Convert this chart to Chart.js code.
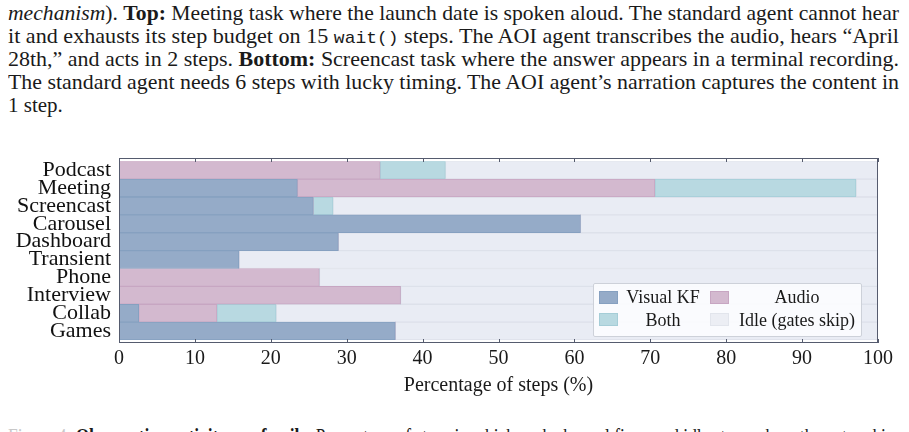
<!DOCTYPE html>
<html>
<head>
<meta charset="utf-8">
<script src="https://cdn.jsdelivr.net/npm/chart.js@4.4.1/dist/chart.umd.min.js"></script>
<style>
  html, body { margin: 0; padding: 0; background: #fff; }
  body { width: 909px; height: 432px; position: relative; overflow: hidden;
         font-family: "Liberation Serif", serif; color: #1a1a1a; }
  .line { position: absolute; left: 8px; white-space: nowrap; font-size: 21px;
          line-height: 23px; transform-origin: 0 0; }
  .line code { font-family: "Liberation Mono", monospace; font-size: 17px; }
  .grey { color: #c8c8c8; }
  #chartBox { position: absolute; left: 0; top: 140px; width: 909px; height: 262px; }
  #legend { position: absolute; left: 593px; top: 283px; width: 267px; height: 52px;
            background: rgba(251, 252, 254, 0.92); border: 1px solid #cdd1d9;
            border-radius: 2px; font-size: 18px; color: #1a1a1a; }
  #legend .sw { position: absolute; width: 17px; height: 11px; border: 1px solid; }
  #legend .lb { position: absolute; text-align: center; line-height: 22px; }
</style>
</head>
<body>

<div class="line" style="top:2px"><i>mechanism</i>). <b>Top:</b> Meeting task where the launch date is spoken aloud. The standard agent cannot hear</div>
<div class="line" style="top:25px">it and exhausts its step budget on 15 <code>wait()</code> steps. The AOI agent transcribes the audio, hears “April</div>
<div class="line" style="top:48px">28th,” and acts in 2 steps. <b>Bottom:</b> Screencast task where the answer appears in a terminal recording.</div>
<div class="line" style="top:71px">The standard agent needs 6 steps with lucky timing. The AOI agent’s narration captures the content in</div>
<div class="line last" style="top:94px">1 step.</div>

<div id="chartBox"><canvas id="gatesChart"></canvas></div>

<div id="legend">
  <span class="sw" style="left:5px;top:7px;background:#95abc8;border-color:#86a0c0"></span>
  <span class="lb" style="left:28px;top:2px;width:82px">Visual KF</span>
  <span class="sw" style="left:116px;top:7px;background:#d3b9cf;border-color:#c7a6c2"></span>
  <span class="lb" style="left:140px;top:2px;width:126px">Audio</span>
  <span class="sw" style="left:5px;top:29px;background:#b8d9e1;border-color:#a5cdd7"></span>
  <span class="lb" style="left:28px;top:25px;width:82px">Both</span>
  <span class="sw" style="left:116px;top:29px;background:#eceef4;border-color:#e2e5ec"></span>
  <span class="lb" style="left:140px;top:25px;width:126px">Idle (gates skip)</span>
</div>

<div class="line" style="top:425px"><span class="grey">Figure 4:</span> <b>Observation activity per family.</b> Percentage of steps in which each channel fires, and idle steps where the gates skip.</div>

<script>
// Families, top to bottom
const families = ["Podcast", "Meeting", "Screencast", "Carousel", "Dashboard",
                  "Transient", "Phone", "Interview", "Collab", "Games"];

// Percentage of steps per channel (stacked, each row sums to 100)
const visualKF = [0, 23.5, 25.6, 60.8, 28.9, 15.8, 0, 0, 2.6, 36.4];
const audio    = [34.4, 47.1, 0, 0, 0, 0, 26.4, 37.1, 10.3, 0];
const both     = [8.6, 26.5, 2.6, 0, 0, 0, 0, 0, 7.8, 0];
const idle     = [57.0, 2.9, 71.8, 39.2, 71.1, 84.2, 73.6, 62.9, 79.3, 63.6];

const xTicks = [0, 10, 20, 30, 40, 50, 60, 70, 80, 90, 100];

// squeeze caption lines to the text block width
const lines = document.querySelectorAll(".line");
let scales = [];
lines.forEach(el => {
  if (el.classList.contains("last")) return;
  const s = 891 / el.getBoundingClientRect().width;
  scales.push(s);
  el.style.transform = `scaleX(${s})`;
});
const avg = scales.reduce((a, b) => a + b, 0) / scales.length;
document.querySelector(".line.last").style.transform = `scaleX(${avg})`;

// frame around the plot with inward ticks on top and bottom
const framePlugin = {
  id: "frame",
  afterDraw(chart) {
    const { ctx, chartArea: a, scales: { x } } = chart;
    const top = a.top - 3, bottom = a.bottom + 3;
    ctx.save();
    ctx.strokeStyle = "#555b6e";
    ctx.lineWidth = 1;
    ctx.strokeRect(Math.round(a.left) + 0.5, Math.round(top) + 0.5,
                   Math.round(a.right - a.left) - 1, Math.round(bottom - top) - 1);
    ctx.beginPath();
    xTicks.forEach(v => {
      const px = Math.round(x.getPixelForValue(v)) + 0.5;
      ctx.moveTo(px, Math.round(top));
      ctx.lineTo(px, Math.round(top) + 4);
      ctx.moveTo(px, Math.round(bottom));
      ctx.lineTo(px, Math.round(bottom) - 4);
    });
    ctx.stroke();
    ctx.restore();
  }
};

const bw = c => (c.raw ? 1 : 0);

const data = {
  labels: families,
  datasets: [
    { label: "Visual KF", data: visualKF, backgroundColor: "#95abc8", borderColor: "#86a0c0", borderWidth: bw },
    { label: "Audio", data: audio, backgroundColor: "#d3b9cf", borderColor: "#c7a6c2", borderWidth: bw },
    { label: "Both", data: both, backgroundColor: "#b8d9e1", borderColor: "#a5cdd7", borderWidth: bw },
    { label: "Idle (gates skip)", data: idle, backgroundColor: "#e9ecf4", borderColor: "#dde1ea", borderWidth: bw }
  ]
};

const config = {
  type: "bar",
  data: data,
  options: {
    indexAxis: "y",
    responsive: true,
    maintainAspectRatio: false,
    animation: false,
    layout: { padding: { top: 13, right: 31, left: 0, bottom: 0 } },
    datasets: { bar: { barPercentage: 1, categoryPercentage: 1, borderSkipped: false } },
    plugins: { legend: { display: false }, tooltip: { enabled: false } },
    scales: {
      x: {
        stacked: true,
        min: 0,
        max: 100,
        afterFit: s => { s.height = 62; },
        afterBuildTicks: s => { s.ticks = xTicks.map(v => ({ value: v })); },
        grid: { display: false, drawTicks: false },
        border: { display: false },
        ticks: { color: "#1a1a1a", padding: 7, maxRotation: 0,
                 font: { family: "Liberation Serif", size: 20 } },
        title: {
          display: true,
          text: "Percentage of steps (%)",
          color: "#1a1a1a",
          padding: { top: 0, bottom: 4 },
          font: { family: "Liberation Serif", size: 20 }
        }
      },
      y: {
        stacked: true,
        afterFit: s => { s.width = 119; },
        grid: { display: false, drawTicks: false },
        border: { display: false },
        ticks: { color: "#111", padding: 8, autoSkip: false,
                 font: { family: "Liberation Serif", size: 22 } }
      }
    }
  },
  plugins: [framePlugin]
};

new Chart(document.getElementById("gatesChart").getContext("2d"), config);
</script>
</body>
</html>
